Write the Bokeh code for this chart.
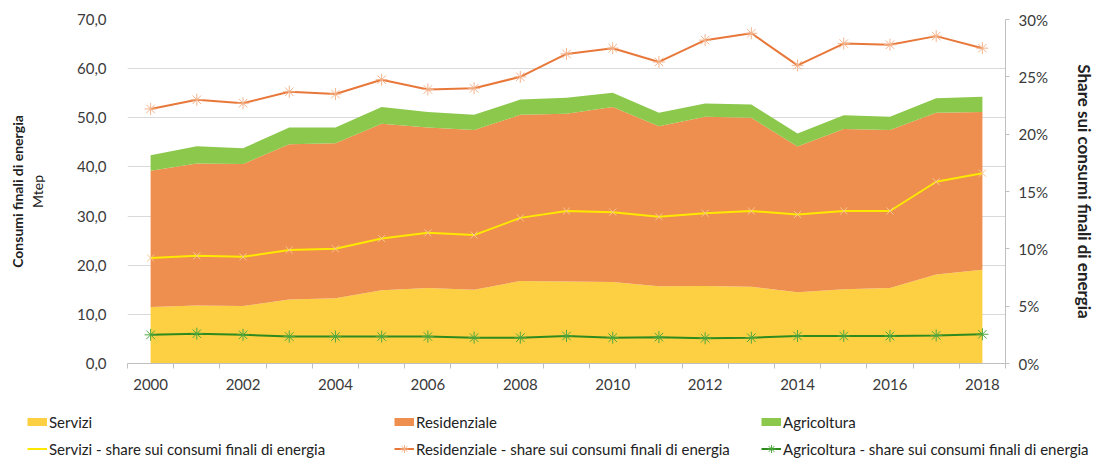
from bokeh.plotting import figure
from bokeh.layouts import column
from bokeh.models import (ColumnDataSource, Range1d, LinearAxis, FixedTicker,
                          CustomJSTickFormatter, PrintfTickFormatter, Legend,
                          LegendItem, Title)
from bokeh.embed import file_html
from bokeh.resources import INLINE

# Consumi finali di energia (Mtep) per settore e share sui consumi finali
years = list(range(2000, 2019))
servizi = [11.5, 11.8, 11.7, 13.0, 13.3, 14.9, 15.35, 15.0, 16.8, 16.7,
           16.6, 15.7, 15.75, 15.6, 14.5, 15.1, 15.35, 18.1, 19.1]
residenziale = [27.7, 28.9, 28.9, 31.6, 31.5, 33.9, 32.65, 32.5, 33.8, 34.1,
                35.6, 32.6, 34.45, 34.4, 29.65, 32.6, 32.15, 32.9, 32.1]
agricoltura = [3.2, 3.5, 3.2, 3.4, 3.2, 3.4, 3.2, 3.1, 3.1, 3.3,
               2.9, 2.7, 2.7, 2.7, 2.65, 2.8, 2.7, 3.0, 3.1]

# share sui consumi finali di energia (%)
share_servizi = [9.2, 9.4, 9.3, 9.9, 10.0, 10.9, 11.4, 11.2, 12.7, 13.3,
                 13.2, 12.8, 13.1, 13.3, 13.0, 13.3, 13.3, 15.85, 16.6]
share_residenziale = [22.2, 23.0, 22.7, 23.7, 23.5, 24.75, 23.9, 24.0, 25.0, 27.0,
                      27.5, 26.3, 28.2, 28.8, 26.0, 27.9, 27.8, 28.55, 27.5]
share_agricoltura = [2.5, 2.6, 2.5, 2.35, 2.35, 2.35, 2.35, 2.25, 2.25, 2.4,
                     2.25, 2.3, 2.2, 2.25, 2.4, 2.4, 2.4, 2.45, 2.55]

year_labels = [2000, 2002, 2004, 2006, 2008, 2010, 2012, 2014, 2016, 2018]
left_ticks = [0, 10, 20, 30, 40, 50, 60, 70]
right_ticks = [0, 5, 10, 15, 20, 25, 30]

FONT = "Lato"
TXT = "#3a3a3a"
DARK = "#222222"

C_SERV, C_RES, C_AGR = "#FDD043", "#EE8F4F", "#8CC84B"
L_SERV, L_RES, L_AGR = "#FFE800", "#E8783A", "#2F8A1E"
M_SERV, M_RES, M_AGR = "#F6C78E", "#F4B48C", "#4FA83F"

src = ColumnDataSource(dict(
    year=years, Servizi=servizi, Residenziale=residenziale, Agricoltura=agricoltura,
    s_serv=share_servizi, s_res=share_residenziale, s_agr=share_agricoltura,
))

p = figure(width=1099, height=400, output_backend="svg", toolbar_location=None,
           x_range=Range1d(years[0] - 0.5, years[-1] + 0.5),
           y_range=Range1d(0, 70),
           min_border_left=127, min_border_right=94,
           min_border_top=19, min_border_bottom=37)
p.extra_y_ranges = {"share": Range1d(0, 30)}
p.outline_line_color = None
p.background_fill_color = "white"
p.border_fill_color = "white"
p.frame_align = False

# stacked areas
p.varea_stack(["Servizi", "Residenziale", "Agricoltura"], x="year", source=src,
              color=[C_SERV, C_RES, C_AGR])

# share lines on the secondary axis
p.line("year", "s_serv", source=src, y_range_name="share", line_color=L_SERV, line_width=2)
p.scatter("year", "s_serv", source=src, y_range_name="share",
          marker="x", size=10, line_color=M_SERV, line_width=1)
p.line("year", "s_res", source=src, y_range_name="share", line_color=L_RES, line_width=2)
p.scatter("year", "s_res", source=src, y_range_name="share",
          marker="asterisk", size=12, line_color=M_RES, line_width=1)
p.line("year", "s_agr", source=src, y_range_name="share", line_color=L_AGR, line_width=2)
p.scatter("year", "s_agr", source=src, y_range_name="share",
          marker="asterisk", size=12, line_color=M_AGR, line_width=1)

# x axis
xa = p.xaxis[0]
xa.ticker = FixedTicker(ticks=year_labels,
                        minor_ticks=[y - 0.5 for y in years] + [years[-1] + 0.5])
xa.major_tick_line_color = None
xa.minor_tick_out = 5
xa.minor_tick_in = 0
xa.minor_tick_line_color = "#BFBFBF"
xa.axis_line_color = "#BFBFBF"
xa.major_label_standoff = 9
xa.major_label_text_font = FONT
xa.major_label_text_font_size = "15px"
xa.major_label_text_color = TXT

# left axis
ya = p.yaxis[0]
ya.ticker = FixedTicker(ticks=left_ticks)
ya.formatter = CustomJSTickFormatter(code="return tick.toFixed(1).replace('.', ',');")
ya.axis_line_color = None
ya.major_tick_line_color = None
ya.minor_tick_line_color = None
ya.major_label_standoff = 15
ya.major_label_text_font = FONT
ya.major_label_text_font_size = "15px"
ya.major_label_text_color = TXT
ya.axis_label = "Mtep"
ya.axis_label_text_font = FONT
ya.axis_label_text_font_style = "normal"
ya.axis_label_text_font_size = "14px"
ya.axis_label_text_color = DARK
ya.axis_label_standoff = 28

p.add_layout(Title(text="Consumi finali di energia", align="center", text_font=FONT,
                   text_font_size="14px", text_font_style="bold", text_color=DARK,
                   standoff=0), "left")

# right axis
ra = LinearAxis(y_range_name="share", ticker=FixedTicker(ticks=right_ticks),
                formatter=PrintfTickFormatter(format="%d%%"))
ra.axis_line_color = "#BFBFBF"
ra.major_tick_line_color = "#BFBFBF"
ra.major_tick_out = 4
ra.major_tick_in = 0
ra.minor_tick_line_color = None
ra.major_label_standoff = 9
ra.major_label_text_font = FONT
ra.major_label_text_font_size = "15px"
ra.major_label_text_color = TXT
ra.axis_label = "Share sui consumi finali di energia"
ra.axis_label_text_font = FONT
ra.axis_label_text_font_size = "17px"
ra.axis_label_text_font_style = "bold"
ra.axis_label_text_color = DARK
ra.axis_label_standoff = 23
p.add_layout(ra, "right")

p.xgrid.grid_line_color = None
p.ygrid.ticker = FixedTicker(ticks=left_ticks)
p.ygrid.grid_line_color = "#D9D9D9"

# legend strip below the chart; its entries reuse the series, kept outside the view
lg = figure(width=1099, height=64, output_backend="svg", toolbar_location=None,
            x_range=Range1d(0, 1), y_range=Range1d(-2, -1),
            x_axis_location=None, y_axis_location=None,
            min_border=0, min_border_left=0, min_border_right=0,
            min_border_top=0, min_border_bottom=0)
lg.frame_align = False
lg.outline_line_color = None
lg.xgrid.grid_line_color = None
lg.ygrid.grid_line_color = None

k_serv = lg.line("year", "Servizi", source=src, line_color=C_SERV, line_width=8)
k_res = lg.line("year", "Residenziale", source=src, line_color=C_RES, line_width=8)
k_agr = lg.line("year", "Agricoltura", source=src, line_color=C_AGR, line_width=8)
k_ls = lg.line("year", "s_serv", source=src, line_color=L_SERV, line_width=2)
k_lr = lg.line("year", "s_res", source=src, line_color=L_RES, line_width=2)
k_mr = lg.scatter("year", "s_res", source=src, marker="asterisk",
                  line_color=M_RES, line_width=1)
k_la = lg.line("year", "s_agr", source=src, line_color=L_AGR, line_width=2)
k_ma = lg.scatter("year", "s_agr", source=src, marker="asterisk",
                  line_color=M_AGR, line_width=1)

legend = Legend(items=[
    LegendItem(label="Servizi", renderers=[k_serv]),
    LegendItem(label="Residenziale", renderers=[k_res]),
    LegendItem(label="Agricoltura", renderers=[k_agr]),
    LegendItem(label="Servizi - share sui consumi finali di energia", renderers=[k_ls]),
    LegendItem(label="Residenziale - share sui consumi finali di energia", renderers=[k_lr, k_mr]),
    LegendItem(label="Agricoltura - share sui consumi finali di energia", renderers=[k_la, k_ma]),
], location=(27, 2), orientation="horizontal", ncols=3)
legend.glyph_width = 20
legend.glyph_height = 27
legend.label_height = 27
legend.label_width = 345
legend.label_standoff = 2
legend.spacing = 0
legend.padding = 0
legend.margin = 0
legend.background_fill_alpha = 0
legend.border_line_color = None
legend.label_text_font = FONT
legend.label_text_font_size = "15px"
legend.label_text_color = DARK
lg.add_layout(legend, "center")

layout = column(p, lg, spacing=0)
open("out.html", "w").write(file_html(layout, INLINE))
